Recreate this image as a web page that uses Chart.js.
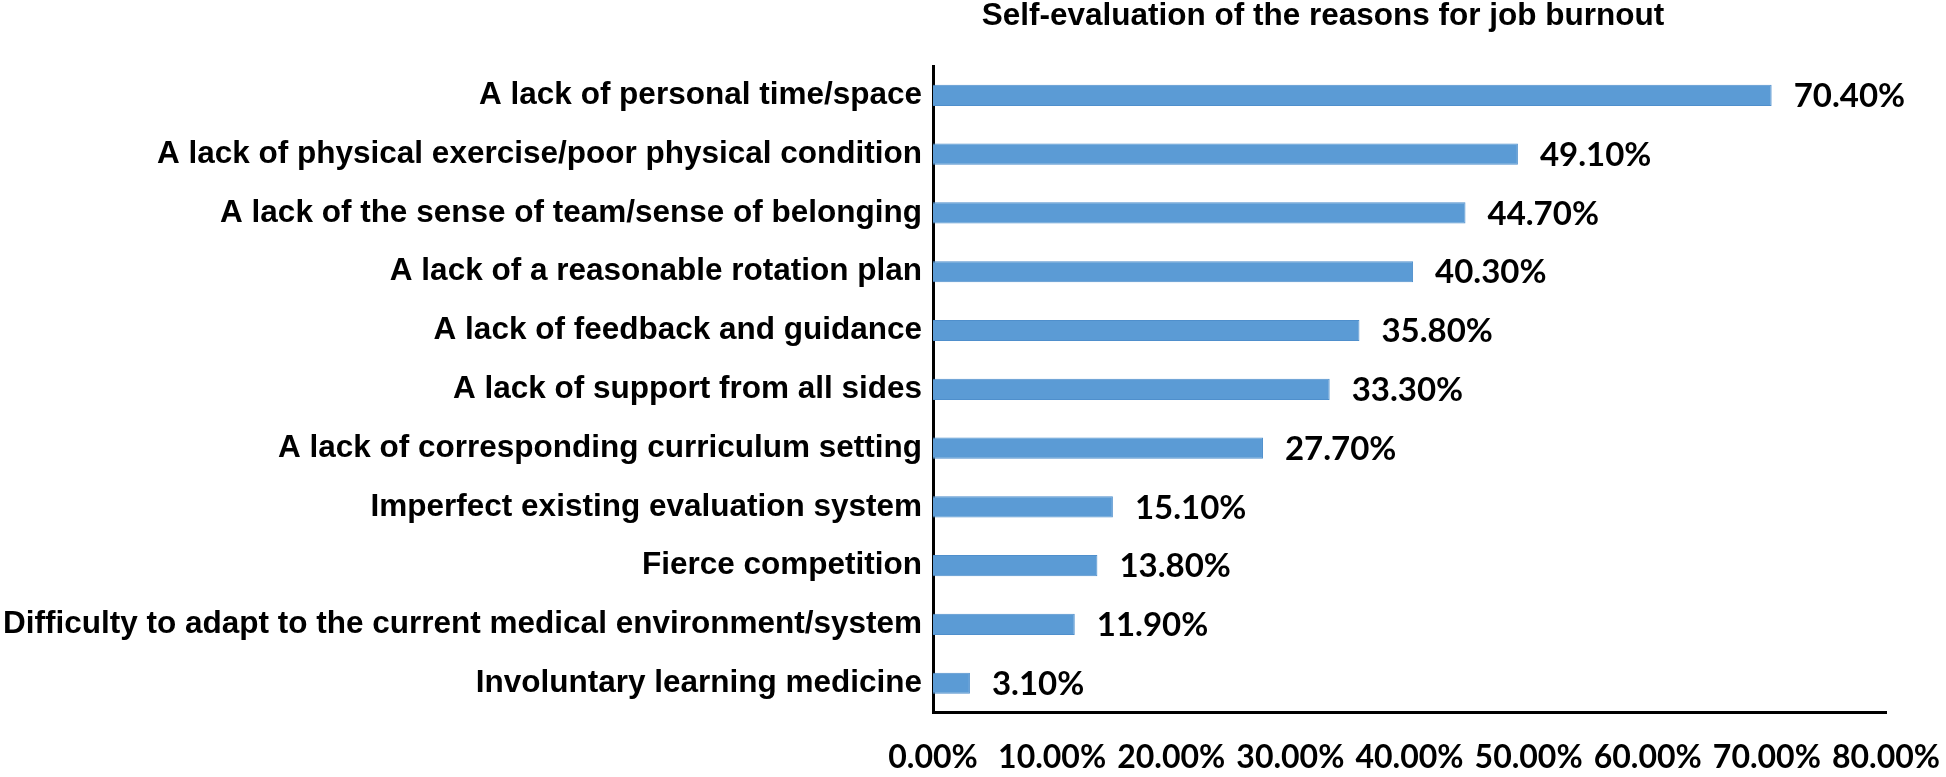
<!DOCTYPE html>
<html>
<head>
<meta charset="utf-8">
<script src="https://cdn.jsdelivr.net/npm/chart.js@4.4.1/dist/chart.umd.min.js"></script>
<style>
  html, body { margin: 0; padding: 0; background: #ffffff; }
  #wrap { width: 1946px; height: 777px; position: relative; }
</style>
</head>
<body>
<div id="wrap"><canvas id="c"></canvas></div>
<script>
// ---- data ----
const categories = [
  "A lack of personal time/space",
  "A lack of physical exercise/poor physical condition",
  "A lack of the sense of team/sense of belonging",
  "A lack of a reasonable rotation plan",
  "A lack of feedback and guidance",
  "A lack of support from all sides",
  "A lack of corresponding curriculum setting",
  "Imperfect existing evaluation system",
  "Fierce competition",
  "Difficulty to adapt to the current medical environment/system",
  "Involuntary learning medicine"
];
const percentValues = [70.4, 49.1, 44.7, 40.3, 35.8, 33.3, 27.7, 15.1, 13.8, 11.9, 3.1];
const xTickValues = [0, 10, 20, 30, 40, 50, 60, 70, 80];
const chartTitle = "Self-evaluation of the reasons for job burnout";

const labelFont = '"Liberation Sans", Arial, sans-serif';
const numberFont = 'Lato, "Open Sans", sans-serif';

const titlePlugin = {
  id: 'customTitle',
  afterDraw(chart) {
    const ctx = chart.ctx;
    ctx.save();
    ctx.font = 'bold 31.5px ' + labelFont;
    ctx.fillStyle = '#000000';
    ctx.textAlign = 'center';
    ctx.textBaseline = 'alphabetic';
    ctx.fillText(chartTitle, chart.chartArea.left + 390, 25);
    ctx.restore();
  }
};

const valueLabelPlugin = {
  id: 'valueLabels',
  afterDatasetsDraw(chart) {
    const ctx = chart.ctx;
    const meta = chart.getDatasetMeta(0);
    ctx.save();
    ctx.font = 'bold 33px ' + numberFont;
    ctx.fillStyle = '#000000';
    ctx.textAlign = 'left';
    ctx.textBaseline = 'middle';
    meta.data.forEach((bar, i) => {
      const v = chart.data.datasets[0].data[i];
      ctx.fillText(v.toFixed(2) + '%', bar.x + 22, bar.y + 1);
    });
    ctx.restore();
  }
};

new Chart(document.getElementById('c'), {
  type: 'bar',
  data: {
    labels: categories,
    datasets: [{
      data: percentValues,
      backgroundColor: '#5B9BD5',
      borderColor: '#4F8FCC',
      borderWidth: 1,
      barPercentage: 0.36,
      categoryPercentage: 1.0
    }]
  },
  options: {
    indexAxis: 'y',
    responsive: true,
    maintainAspectRatio: false,
    animation: false,
    layout: { padding: { top: 66, right: 60, bottom: 0, left: 0 } },
    plugins: {
      legend: { display: false },
      tooltip: { enabled: false },
      title: { display: false }
    },
    scales: {
      x: {
        min: 0,
        max: 80,
        afterBuildTicks(scale) {
          scale.ticks = xTickValues.map(v => ({ value: v }));
        },
        grid: { display: false, drawTicks: true, tickLength: 26 },
        border: { display: true, color: '#000000', width: 3 },
        ticks: {
          autoSkip: false,
          maxRotation: 0,
          minRotation: 0,
          padding: 0,
          color: '#000000',
          font: { family: numberFont, size: 32, weight: 'bold' },
          callback: (v) => Number(v).toFixed(2) + '%'
        }
      },
      y: {
        grid: { display: false, drawTicks: false },
        border: { display: true, color: '#000000', width: 3 },
        afterFit(scale) { scale.width = 933; },
        ticks: {
          autoSkip: false,
          padding: 11,
          color: '#000000',
          font: { family: labelFont, size: 31.5, weight: 'bold' }
        }
      }
    }
  },
  plugins: [titlePlugin, valueLabelPlugin]
});
</script>
</body>
</html>
